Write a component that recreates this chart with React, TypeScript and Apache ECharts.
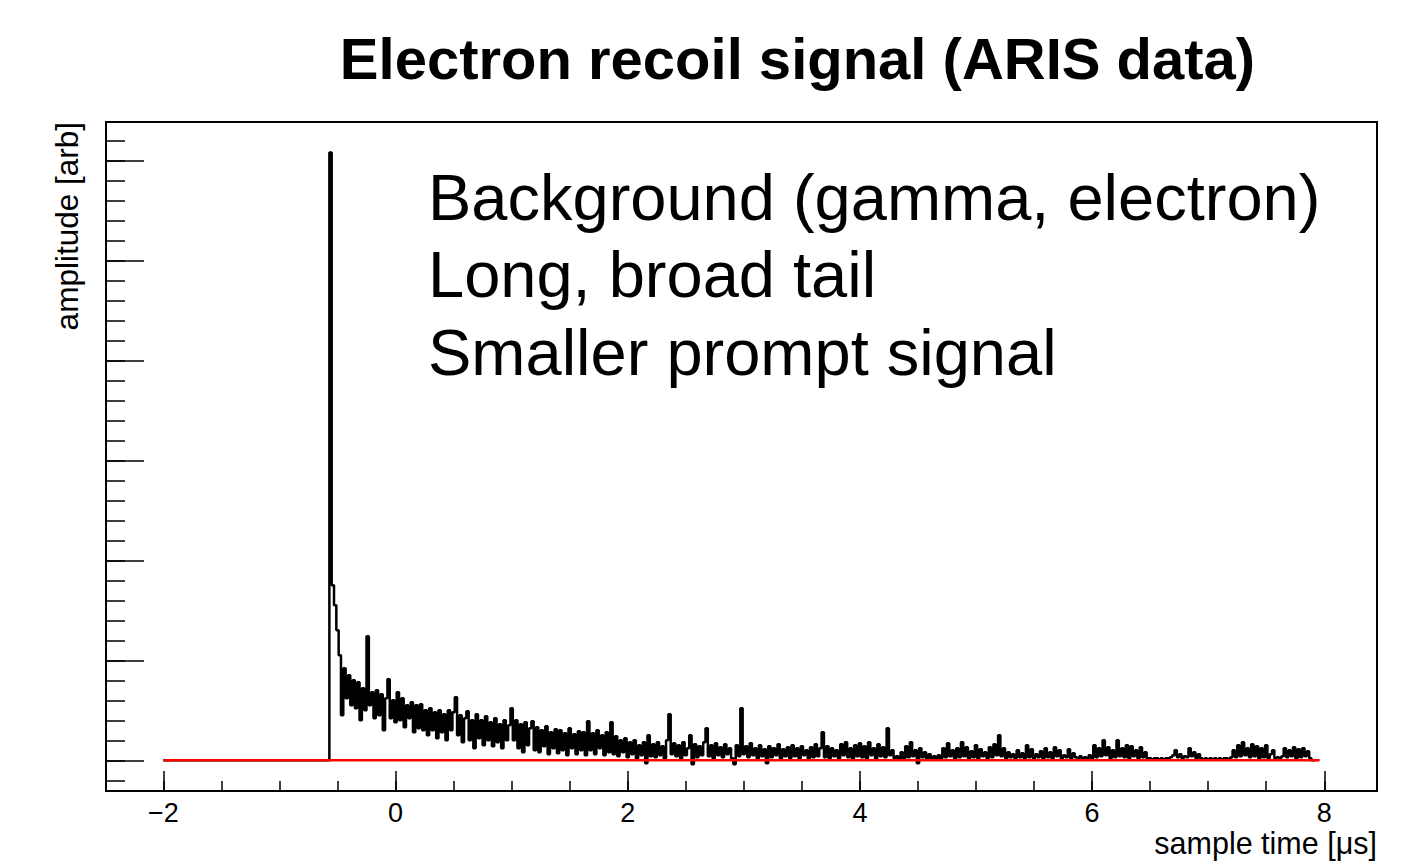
import React, { useEffect, useRef } from "react";
import * as echarts from "echarts";

// ---- texts ----
const titleText = "Electron recoil signal (ARIS data)";
const annotationLines = [
  "Background (gamma, electron)",
  "Long, broad tail",
  "Smaller prompt signal",
];
const xAxisTitle = "sample time [\u03bcs]";
const yAxisTitle = "amplitude [arb]";

// ---- axes ----
const xRange = [-2.494, 8.454];
const yRange = [-0.307, 6.385];
const xMajorTicks = [-2, 0, 2, 4, 6, 8];
const xMinorTicks = [-2, -1.5, -1, -0.5, 0, 0.5, 1, 1.5, 2, 2.5, 3, 3.5, 4, 4.5, 5, 5.5, 6, 6.5, 7, 7.5, 8];
const yMajorTicks = [0, 1, 2, 3, 4, 5, 6];
const yMinorTicks = [
  -0.2, 0, 0.2, 0.4, 0.6, 0.8, 1, 1.2, 1.4, 1.6, 1.8, 2, 2.2, 2.4, 2.6, 2.8, 3,
  3.2, 3.4, 3.6, 3.8, 4, 4.2, 4.4, 4.6, 4.8, 5, 5.2, 5.4, 5.6, 5.8, 6, 6.2,
];

// ---- data ----
// red baseline from t = -2 to t = 7.96 us at amplitude 0
const baselineTimes = [-2, 7.96];
const baselineLevel = 0;
// waveform: flat before the pulse, then samples every 0.02 us
const waveformStartTime = -2;
const sampleStart = -0.58;
const sampleStep = 0.02;
const pulseValues = [
  0.00, 6.08, 1.75, 1.55, 1.30, 1.05, 0.45, 0.92, 0.62, 0.85,
  0.55, 0.80, 0.52, 0.78, 0.40, 0.72, 0.50, 1.24, 0.55, 0.68,
  0.42, 0.70, 0.45, 0.66, 0.30, 0.62, 0.81, 0.42, 0.60, 0.38,
  0.68, 0.40, 0.62, 0.33, 0.55, 0.42, 0.58, 0.28, 0.55, 0.32,
  0.56, 0.30, 0.50, 0.25, 0.52, 0.30, 0.48, 0.22, 0.50, 0.28,
  0.46, 0.20, 0.50, 0.30, 0.48, 0.63, 0.25, 0.45, 0.18, 0.42,
  0.49, 0.20, 0.40, 0.12, 0.46, 0.22, 0.40, 0.15, 0.44, 0.20,
  0.38, 0.14, 0.42, 0.18, 0.36, 0.12, 0.40, 0.20, 0.35, 0.52,
  0.20, 0.40, 0.12, 0.36, 0.08, 0.38, 0.15, 0.32, 0.39, 0.10,
  0.33, 0.08, 0.30, 0.14, 0.34, 0.06, 0.28, 0.12, 0.31, 0.07,
  0.30, 0.10, 0.27, 0.05, 0.32, 0.12, 0.26, 0.06, 0.29, 0.10,
  0.28, 0.05, 0.39, 0.10, 0.27, 0.06, 0.30, 0.12, 0.25, 0.05,
  0.28, 0.08, 0.38, 0.06, 0.24, 0.04, 0.20, 0.08, 0.22, 0.03,
  0.18, 0.06, 0.20, 0.02, 0.15, 0.05, 0.18, -0.03, 0.25, 0.04,
  0.16, 0.03, 0.18, 0.05, 0.14, 0.02, 0.20, 0.46, 0.06, 0.17,
  0.04, 0.15, 0.02, 0.18, 0.05, 0.12, 0.25, -0.04, 0.16, 0.03,
  0.14, 0.05, 0.18, 0.32, 0.04, 0.15, 0.02, 0.17, 0.05, 0.13,
  0.03, 0.16, 0.06, 0.12, 0.02, -0.04, 0.15, 0.04, 0.52, 0.06,
  0.14, 0.03, 0.17, 0.05, 0.12, 0.02, 0.15, 0.04, 0.11, -0.03,
  0.14, 0.03, 0.12, 0.05, 0.16, 0.02, 0.11, 0.04, 0.13, 0.02,
  0.15, 0.04, 0.12, 0.02, 0.14, 0.05, 0.10, 0.02, 0.13, 0.03,
  0.16, 0.04, 0.12, 0.28, 0.03, 0.14, 0.02, 0.12, 0.04, 0.10,
  0.02, 0.16, 0.05, 0.18, 0.03, 0.12, 0.02, 0.15, 0.04, 0.17,
  0.03, 0.14, 0.02, 0.18, 0.05, 0.12, 0.02, 0.16, 0.04, 0.13,
  0.03, 0.32, 0.05, 0.10, 0.02, 0.04, 0.01, 0.08, 0.02, 0.14,
  0.03, 0.18, 0.04, 0.10, -0.03, 0.12, 0.03, 0.08, 0.01, 0.06,
  0.02, 0.04, 0.01, 0.05, 0.02, 0.12, 0.03, 0.17, 0.04, 0.10,
  0.02, 0.12, 0.03, 0.18, 0.04, 0.13, 0.02, 0.09, 0.03, 0.15,
  0.02, 0.11, 0.04, 0.08, 0.02, 0.13, 0.03, 0.16, 0.05, 0.25,
  0.04, 0.12, 0.02, 0.08, 0.03, 0.06, 0.02, 0.10, 0.03, 0.07,
  0.02, 0.15, 0.03, 0.11, 0.02, 0.06, 0.03, 0.09, 0.02, 0.12,
  0.03, 0.08, 0.02, 0.13, 0.04, 0.10, 0.02, 0.05, 0.03, 0.11,
  0.02, 0.07, 0.03, 0.02, 0.04, 0.01, 0.03, 0.02, 0.05, 0.02,
  0.15, 0.03, 0.12, 0.04, 0.20, 0.05, 0.13, 0.02, 0.10, 0.03,
  0.20, 0.04, 0.12, 0.03, 0.15, 0.02, 0.14, 0.04, 0.10, 0.02,
  0.13, 0.03, 0.08, 0.02, 0.02, 0.01, 0.02, 0.02, 0.01, 0.02,
  0.01, 0.02, 0.02, 0.03, 0.05, 0.10, 0.03, 0.06, 0.02, 0.04,
  0.03, 0.12, 0.04, 0.08, 0.02, 0.06, 0.02, 0.01, 0.02, 0.01,
  0.02, 0.01, 0.02, 0.01, 0.02, 0.01, 0.02, 0.02, 0.01, 0.03,
  0.10, 0.03, 0.15, 0.04, 0.18, 0.05, 0.12, 0.03, 0.16, 0.04,
  0.14, 0.02, 0.12, 0.03, 0.15, 0.02, 0.06, 0.10, 0.02, 0.03,
  0.02, 0.04, 0.12, 0.03, 0.10, 0.04, 0.13, 0.02, 0.11, 0.03,
  0.12, 0.04, 0.09, 0.02, 0.00, 0.00,
];

const FONT = '"Liberation Sans", Arial, Helvetica, sans-serif';

function fmtTick(v: number): string {
  return v < 0 ? "\u2212" + Math.abs(v) : String(v);
}

export default function App() {
  const ref = useRef<HTMLDivElement>(null);

  useEffect(() => {
    if (!ref.current) return;
    const chart = echarts.init(ref.current, undefined, { renderer: "svg" });

    const waveform: number[][] = [[waveformStartTime, 0]];
    pulseValues.forEach((v, i) => {
      waveform.push([+(sampleStart + i * sampleStep).toFixed(4), v]);
    });
    const baseline = baselineTimes.map((t) => [t, baselineLevel]);

    const tickLine = { color: "#000", width: 1.5 };
    const hiddenLine = { show: false, onZero: false };

    const option: any = {
      animation: false,
      grid: {
        left: 106,
        right: 29,
        top: 122,
        bottom: 75,
        show: true,
        borderColor: "#000",
        borderWidth: 2,
        backgroundColor: "transparent",
      },
      xAxis: [
        {
          type: "value",
          min: xRange[0],
          max: xRange[1],
          position: "bottom",
          axisLine: hiddenLine,
          splitLine: { show: false },
          axisTick: {
            show: true,
            inside: true,
            length: 20,
            customValues: xMajorTicks,
            lineStyle: tickLine,
          },
          axisLabel: {
            show: true,
            customValues: xMajorTicks,
            formatter: (v: number) => fmtTick(v),
            fontSize: 27,
            fontFamily: FONT,
            color: "#000",
            margin: 8,
          },
        },
        {
          type: "value",
          min: xRange[0],
          max: xRange[1],
          position: "bottom",
          axisLine: hiddenLine,
          splitLine: { show: false },
          axisTick: {
            show: true,
            inside: true,
            length: 10,
            customValues: xMinorTicks,
            lineStyle: tickLine,
          },
          axisLabel: { show: false },
        },
      ],
      yAxis: [
        {
          type: "value",
          min: yRange[0],
          max: yRange[1],
          position: "left",
          axisLine: hiddenLine,
          splitLine: { show: false },
          axisTick: {
            show: true,
            inside: true,
            length: 38,
            customValues: yMajorTicks,
            lineStyle: tickLine,
          },
          axisLabel: { show: false },
        },
        {
          type: "value",
          min: yRange[0],
          max: yRange[1],
          position: "left",
          axisLine: hiddenLine,
          splitLine: { show: false },
          axisTick: {
            show: true,
            inside: true,
            length: 19,
            customValues: yMinorTicks,
            lineStyle: tickLine,
          },
          axisLabel: { show: false },
        },
      ],
      series: [
        {
          type: "line",
          xAxisIndex: 0,
          yAxisIndex: 0,
          data: waveform,
          step: "middle",
          symbol: "none",
          showSymbol: false,
          lineStyle: { color: "#000", width: 2.5 },
          z: 2,
        },
        {
          type: "line",
          xAxisIndex: 0,
          yAxisIndex: 0,
          data: baseline,
          symbol: "none",
          showSymbol: false,
          lineStyle: { color: "#ff0000", width: 2.4 },
          z: 3,
        },
      ],
      graphic: [
        {
          type: "text",
          x: 797.5,
          y: 58,
          style: {
            text: titleText,
            fill: "#000",
            font: `bold 58px ${FONT}`,
            align: "center",
            textAlign: "center",
            verticalAlign: "middle",
            textVerticalAlign: "middle",
          },
        },
        ...annotationLines.map((line, i) => ({
          type: "text",
          x: 428,
          y: 197 + i * 77.5,
          style: {
            text: line,
            fill: "#000",
            font: `normal 65px ${FONT}`,
            align: "left",
            textAlign: "left",
            verticalAlign: "middle",
            textVerticalAlign: "middle",
          },
        })),
        {
          type: "text",
          x: 1377,
          y: 843,
          style: {
            text: xAxisTitle,
            fill: "#000",
            font: `normal 30.5px ${FONT}`,
            align: "right",
            textAlign: "right",
            verticalAlign: "middle",
            textVerticalAlign: "middle",
          },
        },
        {
          type: "text",
          x: 67,
          y: 122,
          rotation: Math.PI / 2,
          style: {
            text: yAxisTitle,
            fill: "#000",
            font: `normal 31.5px ${FONT}`,
            align: "right",
            textAlign: "right",
            verticalAlign: "middle",
            textVerticalAlign: "middle",
          },
        },
      ],
    };

    chart.setOption(option);
    return () => chart.dispose();
  }, []);

  return (
    <div
      ref={ref}
      style={{ position: "absolute", left: 0, top: 0, width: 1406, height: 866, background: "#fff" }}
    />
  );
}
